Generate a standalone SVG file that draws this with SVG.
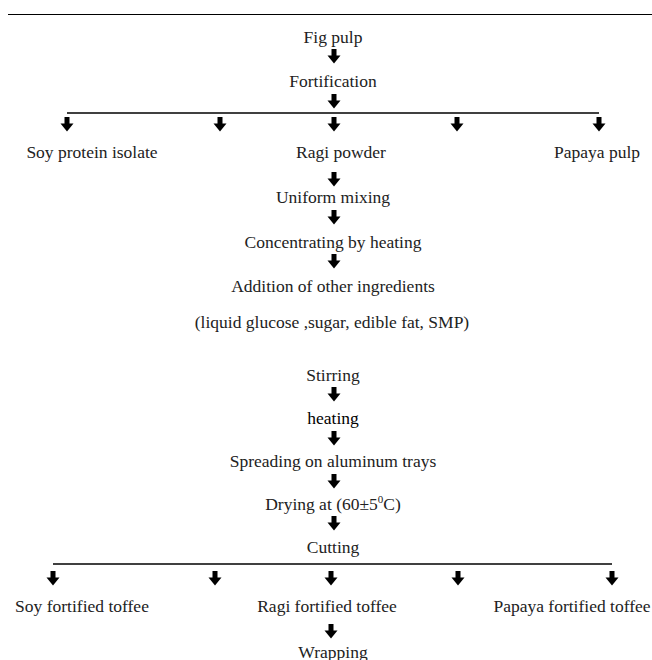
<svg xmlns="http://www.w3.org/2000/svg" width="652" height="660" viewBox="0 0 652 660">
<style>
.t{font-family:'Liberation Serif',Tinos,'Times New Roman','DejaVu Serif',serif;font-size:17.5px;fill:#222;text-anchor:middle}
.ln{stroke:#000;stroke-width:1.5;fill:none}
</style>
<defs>
<path id="ar" d="M-2.5,0 H2.5 V6.5 H6.5 L0,14.5 L-6.5,6.5 H-2.5 Z" fill="#000"/>
</defs>
<rect width="652" height="660" fill="#fff"/>
<line x1="8" y1="14.5" x2="652" y2="14.5" stroke="#000" stroke-width="1.2"/>
<g id="connectors">
<use href="#ar" x="334" y="49"/>
<use href="#ar" x="334" y="94"/>
<line class="ln" x1="67" y1="113" x2="599" y2="113"/>
<use href="#ar" x="67" y="117"/>
<use href="#ar" x="220" y="117"/>
<use href="#ar" x="334" y="117"/>
<use href="#ar" x="457" y="117"/>
<use href="#ar" x="599" y="117"/>
<use href="#ar" x="334" y="172"/>
<use href="#ar" x="334" y="210"/>
<use href="#ar" x="334" y="254"/>
<use href="#ar" x="334" y="387"/>
<use href="#ar" x="334" y="431"/>
<use href="#ar" x="334" y="474"/>
<use href="#ar" x="334" y="516"/>
<line class="ln" x1="53" y1="564" x2="612" y2="564"/>
<use href="#ar" x="53" y="571"/>
<use href="#ar" x="215" y="571"/>
<use href="#ar" x="331" y="571"/>
<use href="#ar" x="458" y="571"/>
<use href="#ar" x="612" y="571"/>
<use href="#ar" x="331" y="624"/>
</g>
<g font-family="Liberation Serif, serif">
<g id="fig-pulp"><text class="t" x="333" y="43">Fig pulp</text></g>
<g id="fortification"><text class="t" x="333" y="87">Fortification</text></g>
<g id="soy-protein"><text class="t" x="92" y="158">Soy protein isolate</text></g>
<g id="ragi-powder"><text class="t" x="341" y="158">Ragi powder</text></g>
<g id="papaya-pulp"><text class="t" x="597" y="158">Papaya pulp</text></g>
<g id="uniform-mixing"><text class="t" x="333" y="203">Uniform mixing</text></g>
<g id="concentrating"><text class="t" x="333" y="248">Concentrating by heating</text></g>
<g id="addition"><text class="t" x="333" y="292">Addition of other ingredients</text><text class="t" x="332" y="328">(liquid glucose ,sugar, edible fat, SMP)</text></g>
<g id="stirring"><text class="t" x="333" y="381">Stirring</text></g>
<g id="heating"><text class="t" x="333" y="424" style="fill:#000">heating</text></g>
<g id="spreading"><text class="t" x="333" y="467">Spreading on aluminum trays</text></g>
<g id="drying"><text class="t" x="333" y="510">Drying at (60±5<tspan font-size="11" dy="-7">0</tspan><tspan dy="7">C)</tspan></text></g>
<g id="cutting"><text class="t" x="333" y="553">Cutting</text></g>
<g id="soy-toffee"><text class="t" x="82" y="612">Soy fortified toffee</text></g>
<g id="ragi-toffee"><text class="t" x="327" y="612">Ragi fortified toffee</text></g>
<g id="papaya-toffee"><text class="t" x="572" y="612">Papaya fortified toffee</text></g>
<g id="wrapping"><text class="t" x="333" y="658">Wrapping</text></g>
</g>
</svg>
